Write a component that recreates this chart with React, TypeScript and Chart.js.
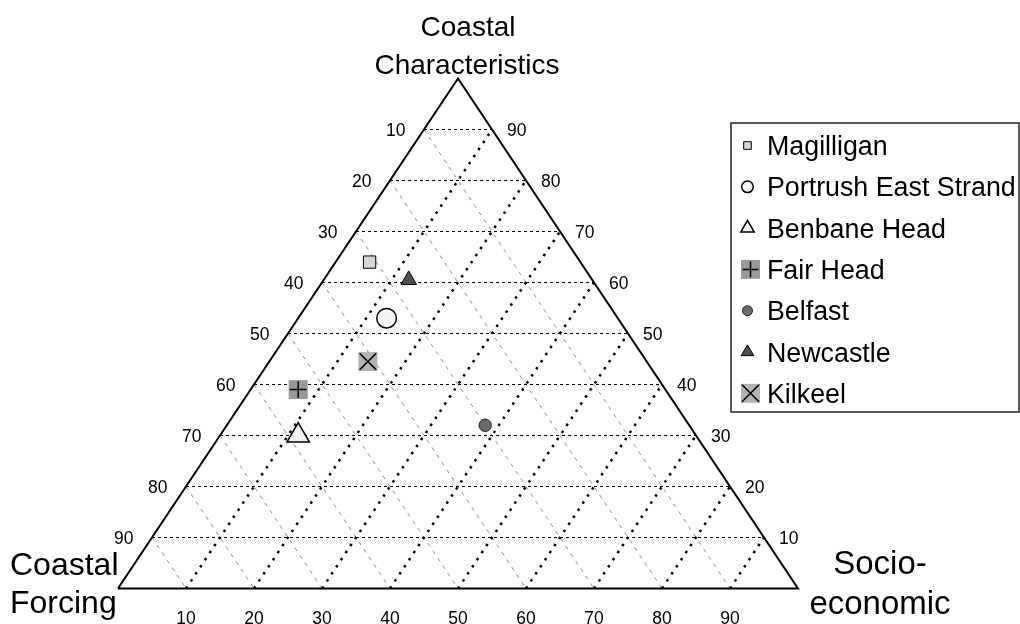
import React, { useEffect, useRef } from 'react';
import { Chart, registerables } from 'chart.js';

Chart.register(...registerables);

// ---- Data (ternary percentages, each row sums to 100) ----
const sites = [
  'Magilligan',
  'Portrush East Strand',
  'Benbane Head',
  'Fair Head',
  'Belfast',
  'Newcastle',
  'Kilkeel',
];
const coastalForcing = [31, 34, 58.5, 54, 30, 27, 41];
const coastalCharacteristics = [64, 53, 30, 39, 32, 60.5, 44.5];
const socioEconomic = [5, 13, 11.5, 7, 38, 12.5, 14.5];

const gridLevels = [10, 20, 30, 40, 50, 60, 70, 80, 90];
const leftTickLabels = ['10', '20', '30', '40', '50', '60', '70', '80', '90']; // Coastal Forcing
const rightTickLabels = ['10', '20', '30', '40', '50', '60', '70', '80', '90']; // Coastal Characteristics
const bottomTickLabels = ['10', '20', '30', '40', '50', '60', '70', '80', '90']; // Socio-economic

const topTitle = ['Coastal', 'Characteristics'];
const leftTitle = ['Coastal', 'Forcing'];
const rightTitle = ['Socio-', 'economic'];

// ---- Styles ----
const FONT = '"Liberation Sans", Arial, Helvetica, sans-serif';

type MStyle = {
  style: string;
  r: number;
  lr: number;
  fill: string;
  stroke: string;
  lw: number;
  overlay?: string;
  or?: number;
  lor?: number;
};

const markerStyles: MStyle[] = [
  { style: 'rect', r: 8.7, lr: 5.4, fill: '#d6d6d6', stroke: '#000', lw: 1 },
  { style: 'circle', r: 9.8, lr: 5.8, fill: '#f5f5f5', stroke: '#000', lw: 1.5 },
  { style: 'triangle', r: 13, lr: 7.8, fill: '#f0f0f0', stroke: '#000', lw: 1.5 },
  { style: 'rect', r: 13.4, lr: 13.4, fill: '#999999', stroke: '#999999', lw: 0, overlay: 'cross', or: 8.3, lor: 7.8 },
  { style: 'circle', r: 6.2, lr: 5, fill: '#6b6b6b', stroke: '#222', lw: 1 },
  { style: 'triangle', r: 9, lr: 7.2, fill: '#4f4f4f', stroke: '#000', lw: 1 },
  { style: 'rect', r: 13.4, lr: 13.4, fill: '#b3b3b3', stroke: '#b3b3b3', lw: 0, overlay: 'crossRot', or: 11.8, lor: 12 },
];

// ternary -> cartesian (X in 0..100 along base, Y = height in %)
const toXY = (se: number, cc: number) => ({ x: se + cc / 2, y: cc });

function drawMarker(
  ctx: CanvasRenderingContext2D,
  style: string,
  x: number,
  y: number,
  r: number,
  fill: string,
  stroke: string,
  lw: number
) {
  ctx.save();
  ctx.beginPath();
  if (style === 'circle') {
    ctx.arc(x, y, r, 0, Math.PI * 2);
  } else if (style === 'rect') {
    const s = Math.SQRT1_2 * r;
    ctx.rect(x - s, y - s, 2 * s, 2 * s);
  } else if (style === 'triangle') {
    for (let i = 0; i < 3; i++) {
      const a = (i * 2 * Math.PI) / 3;
      const px = x + Math.sin(a) * r;
      const py = y - Math.cos(a) * r;
      if (i === 0) ctx.moveTo(px, py);
      else ctx.lineTo(px, py);
    }
    ctx.closePath();
  } else if (style === 'cross') {
    ctx.moveTo(x, y - r);
    ctx.lineTo(x, y + r);
    ctx.moveTo(x - r, y);
    ctx.lineTo(x + r, y);
  } else if (style === 'crossRot') {
    const d = r * Math.SQRT1_2;
    ctx.moveTo(x - d, y - d);
    ctx.lineTo(x + d, y + d);
    ctx.moveTo(x + d, y - d);
    ctx.lineTo(x - d, y + d);
  }
  if (style !== 'cross' && style !== 'crossRot') {
    ctx.fillStyle = fill;
    ctx.fill();
  }
  if (lw > 0) {
    ctx.lineWidth = lw;
    ctx.strokeStyle = stroke;
    ctx.stroke();
  }
  ctx.restore();
}

const ternaryDecor = {
  id: 'ternaryDecor',
  afterDraw(chart: any) {
    const ctx: CanvasRenderingContext2D = chart.ctx;
    const xs = chart.scales.x;
    const ys = chart.scales.y;
    const px = (p: { x: number; y: number }) => ({ x: xs.getPixelForValue(p.x), y: ys.getPixelForValue(p.y) });

    ctx.save();
    ctx.fillStyle = '#000';

    // tick labels
    ctx.font = `17.5px ${FONT}`;
    ctx.textBaseline = 'alphabetic';
    // left edge: Coastal Forcing
    ctx.textAlign = 'right';
    leftTickLabels.forEach((lab) => {
      const cf = Number(lab);
      const p = px(toXY(0, 100 - cf));
      ctx.fillText(lab, p.x - 18.5, p.y + 6);
    });
    // right edge: Coastal Characteristics
    ctx.textAlign = 'left';
    rightTickLabels.forEach((lab) => {
      const cc = Number(lab);
      const p = px(toXY(100 - cc, cc));
      ctx.fillText(lab, p.x + 15, p.y + 6);
    });
    // bottom edge: Socio-economic
    ctx.textAlign = 'center';
    bottomTickLabels.forEach((lab) => {
      const se = Number(lab);
      const p = px(toXY(se, 0));
      ctx.fillText(lab, p.x, p.y + 35);
    });

    // axis titles
    const apex = px(toXY(0, 100));
    ctx.font = `28px ${FONT}`;
    ctx.textAlign = 'center';
    ctx.fillText(topTitle[0], apex.x + 10, 36);
    ctx.fillText(topTitle[1], apex.x + 9, 74);

    ctx.font = `32px ${FONT}`;
    ctx.textAlign = 'left';
    ctx.fillText(leftTitle[0], 10, 575);
    ctx.fillText(leftTitle[1], 10, 613);

    ctx.font = `33px ${FONT}`;
    ctx.textAlign = 'center';
    ctx.fillText(rightTitle[0], 880, 574);
    ctx.fillText(rightTitle[1], 880, 614);

    // legend
    const lx = 731;
    const ly = 123;
    const lw = 288;
    const lh = 289;
    ctx.lineWidth = 1.5;
    ctx.strokeStyle = '#222';
    ctx.fillStyle = '#fff';
    ctx.fillRect(lx, ly, lw, lh);
    ctx.strokeRect(lx, ly, lw, lh);

    ctx.font = `26.8px ${FONT}`;
    ctx.textAlign = 'left';
    sites.forEach((name, i) => {
      const rowY = 145.5 + i * 41.3;
      const m = markerStyles[i];
      const mx = m.style === 'rect' && m.lw === 0 ? 750.5 : 747.5;
      drawMarker(ctx, m.style, mx, rowY, m.lr, m.fill, m.stroke, m.lw);
      if (m.overlay) drawMarker(ctx, m.overlay, mx, rowY, m.lor || 8, '#000', '#000', 1.5);
      ctx.fillStyle = '#000';
      ctx.fillText(name, 767, rowY + 9.6);
    });

    ctx.restore();
  },
};

export default function App() {
  const ref = useRef<HTMLCanvasElement | null>(null);

  useEffect(() => {
    document.body.style.margin = '0';
    const canvas = ref.current;
    if (!canvas) return;

    const datasets: any[] = [];

    // horizontal lines: constant Coastal Characteristics
    gridLevels.forEach((cc) => {
      datasets.push({
        data: [toXY(0, cc), toXY(100 - cc, cc)],
        showLine: true,
        pointRadius: 0,
        borderColor: '#000',
        borderWidth: 1,
        borderDash: [3, 3],
        order: 5,
        clip: false,
      });
    });
    // lines parallel to left edge: constant Socio-economic
    gridLevels.forEach((se) => {
      datasets.push({
        data: [toXY(se, 0), toXY(se, 100 - se)],
        showLine: true,
        pointRadius: 0,
        borderColor: '#000',
        borderWidth: 2.5,
        borderDash: [2.5, 6],
        order: 5,
        clip: false,
      });
    });
    // lines parallel to right edge: constant Coastal Forcing
    gridLevels.forEach((cf) => {
      datasets.push({
        data: [toXY(0, 100 - cf), toXY(100 - cf, 0)],
        showLine: true,
        pointRadius: 0,
        borderColor: '#6e6e6e',
        borderWidth: 0.8,
        borderDash: [4, 5],
        order: 5,
        clip: false,
      });
    });
    // triangle outline
    datasets.push({
      data: [toXY(0, 0), toXY(100, 0), toXY(0, 100), toXY(0, 0)],
      showLine: true,
      pointRadius: 0,
      borderColor: '#000',
      borderWidth: 2,
      order: 3,
      clip: false,
    });
    // site markers
    sites.forEach((name, i) => {
      const m = markerStyles[i];
      const pt = toXY(socioEconomic[i], coastalCharacteristics[i]);
      datasets.push({
        label: name,
        data: [pt],
        pointStyle: m.style,
        pointRadius: m.r,
        backgroundColor: m.fill,
        borderColor: m.stroke,
        borderWidth: m.lw,
        order: 1,
        clip: false,
      });
      if (m.overlay) {
        datasets.push({
          label: name + ' symbol',
          data: [pt],
          pointStyle: m.overlay,
          pointRadius: m.or,
          backgroundColor: '#000',
          borderColor: '#000',
          borderWidth: 1.5,
          order: 0,
          clip: false,
        });
      }
    });

    const chart = new Chart(canvas, {
      type: 'scatter',
      data: { datasets },
      options: {
        responsive: false,
        animation: false,
        events: [],
        layout: { padding: { left: 118, right: 222, top: 78.5, bottom: 35.5 } },
        scales: {
          x: { type: 'linear', min: 0, max: 100, display: false },
          y: { type: 'linear', min: 0, max: 100, display: false },
        },
        plugins: {
          legend: { display: false },
          tooltip: { enabled: false },
          title: { display: false },
        },
      },
      plugins: [ternaryDecor],
    });

    return () => {
      chart.destroy();
    };
  }, []);

  return (
    <div style={{ width: 1020, height: 624, background: '#fff' }}>
      <canvas ref={ref} width={1020} height={624} style={{ display: 'block' }} />
    </div>
  );
}
